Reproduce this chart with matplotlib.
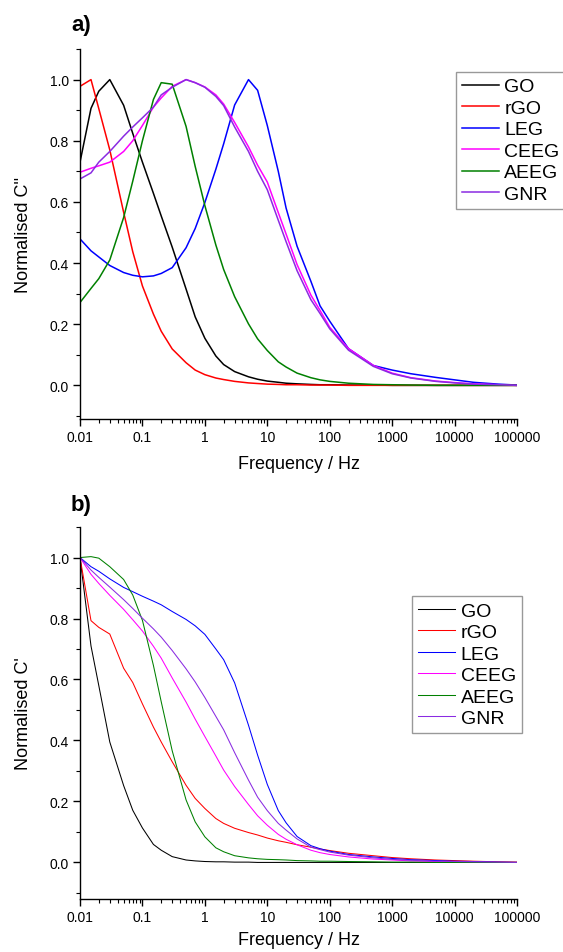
import matplotlib
matplotlib.use("Agg")
import matplotlib.pyplot as plt
from matplotlib.ticker import FixedLocator, FixedFormatter, MultipleLocator, FormatStrFormatter, LogLocator, NullFormatter

plt.rcParams["font.family"] = ["Liberation Sans", "DejaVu Sans"]

# ---------- DATA ----------
freq = [0.01, 0.015, 0.02, 0.03, 0.05, 0.07, 0.1, 0.15, 0.2, 0.3, 0.5, 0.7,
        1, 1.5, 2, 3, 5, 7, 10, 15, 20, 30, 50, 70, 100, 200, 500, 1000,
        2000, 5000, 1e4, 2e4, 5e4, 1e5]

labels = ["GO", "rGO", "LEG", "CEEG", "AEEG", "GNR"]
colors = ["black", "#ff0000", "#0000ff", "#ff00ff", "#008000", "#8a2be2"]

# a) normalised C''
go_c2 = [0.73, 0.906, 0.962, 1.0, 0.916, 0.824, 0.73, 0.628, 0.554, 0.452, 0.315, 0.224,
         0.154, 0.096, 0.068, 0.045, 0.028, 0.02, 0.014, 0.01, 0.007, 0.005, 0.003, 0.002,
         0.002, 0.001, 0.001, 0, 0, 0, 0, 0, 0, 0]
rgo_c2 = [0.978, 1.0, 0.905, 0.77, 0.566, 0.437, 0.325, 0.233, 0.177, 0.119, 0.074, 0.05,
          0.035, 0.024, 0.019, 0.013, 0.008, 0.006, 0.004, 0.003, 0.002, 0.002, 0.001, 0.001,
          0.001, 0, 0, 0, 0, 0, 0, 0, 0, 0]
leg_c2 = [0.479, 0.44, 0.42, 0.392, 0.369, 0.36, 0.355, 0.358, 0.366, 0.385, 0.45, 0.513,
          0.598, 0.707, 0.79, 0.917, 1.0, 0.965, 0.85, 0.70, 0.58, 0.455, 0.34, 0.26,
          0.21, 0.12, 0.065, 0.05, 0.038, 0.026, 0.018, 0.01, 0.004, 0.001]
ceeg_c2 = [0.697, 0.71, 0.718, 0.73, 0.765, 0.80, 0.85, 0.91, 0.94, 0.978, 1.0, 0.99,
           0.976, 0.95, 0.92, 0.86, 0.78, 0.72, 0.665, 0.565, 0.495, 0.395, 0.295, 0.245,
           0.19, 0.12, 0.065, 0.04, 0.025, 0.014, 0.009, 0.005, 0.002, 0]
aeeg_c2 = [0.271, 0.317, 0.349, 0.41, 0.549, 0.668, 0.80, 0.935, 0.99, 0.985, 0.847, 0.716,
           0.588, 0.459, 0.379, 0.29, 0.201, 0.152, 0.114, 0.077, 0.06, 0.04, 0.025, 0.018,
           0.013, 0.007, 0.003, 0.002, 0.001, 0, 0, 0, 0, 0]
gnr_c2 = [0.675, 0.695, 0.73, 0.765, 0.815, 0.845, 0.875, 0.91, 0.95, 0.975, 1.0, 0.99,
          0.975, 0.945, 0.915, 0.845, 0.765, 0.70, 0.64, 0.54, 0.47, 0.375, 0.28, 0.235,
          0.185, 0.115, 0.062, 0.038, 0.024, 0.013, 0.008, 0.004, 0.002, 0]

# b) normalised C'
go_c1 = [1.0, 0.71, 0.58, 0.395, 0.252, 0.171, 0.113, 0.059, 0.04, 0.019, 0.008, 0.005,
         0.003, 0.002, 0.002, 0.001, 0.001, 0, 0, 0, 0, 0, 0, 0,
         0, 0, 0, 0, 0, 0, 0, 0, 0, 0]
rgo_c1 = [1.0, 0.793, 0.771, 0.749, 0.637, 0.59, 0.52, 0.444, 0.395, 0.33, 0.253, 0.21,
          0.177, 0.144, 0.128, 0.112, 0.098, 0.09, 0.08, 0.071, 0.066, 0.058, 0.05, 0.044,
          0.039, 0.03, 0.022, 0.016, 0.012, 0.008, 0.006, 0.004, 0.002, 0.001]
leg_c1 = [1.0, 0.97, 0.955, 0.93, 0.902, 0.888, 0.873, 0.857, 0.845, 0.823, 0.797, 0.776,
          0.748, 0.70, 0.665, 0.589, 0.45, 0.352, 0.256, 0.17, 0.13, 0.085, 0.055, 0.045,
          0.037, 0.026, 0.018, 0.013, 0.009, 0.006, 0.004, 0.003, 0.001, 0]
ceeg_c1 = [1.0, 0.945, 0.915, 0.876, 0.83, 0.796, 0.759, 0.709, 0.67, 0.605, 0.526, 0.47,
           0.413, 0.349, 0.303, 0.249, 0.19, 0.153, 0.122, 0.092, 0.076, 0.058, 0.04, 0.032,
           0.026, 0.018, 0.011, 0.008, 0.005, 0.003, 0.002, 0.001, 0, 0]
aeeg_c1 = [1.0, 1.003, 0.998, 0.97, 0.928, 0.877, 0.794, 0.646, 0.527, 0.366, 0.205, 0.133,
           0.084, 0.048, 0.035, 0.022, 0.015, 0.012, 0.01, 0.009, 0.008, 0.006, 0.005, 0.004,
           0.004, 0.003, 0.002, 0.001, 0.001, 0, 0, 0, 0, 0]
gnr_c1 = [1.0, 0.959, 0.935, 0.903, 0.862, 0.833, 0.801, 0.766, 0.739, 0.695, 0.635, 0.592,
          0.541, 0.479, 0.435, 0.36, 0.27, 0.214, 0.17, 0.128, 0.106, 0.077, 0.05, 0.042,
          0.034, 0.024, 0.015, 0.01, 0.007, 0.004, 0.003, 0.002, 0.001, 0]

xticks = [0.01, 0.1, 1, 10, 100, 1000, 10000, 100000]
xticklabels = ["0.01", "0.1", "1", "10", "100", "1000", "10000", "100000"]


def style_axes(ax, ylabel, ybottom, xpad):
    ax.set_xscale("log")
    ax.set_xlim(0.01, 1e5)
    ax.set_ylim(ybottom, 1.1)
    for side in ("top", "right"):
        ax.spines[side].set_visible(False)
    for side in ("left", "bottom"):
        ax.spines[side].set_linewidth(1.0)
    ax.xaxis.set_major_locator(FixedLocator(xticks))
    ax.xaxis.set_major_formatter(FixedFormatter(xticklabels))
    ax.xaxis.set_minor_locator(LogLocator(base=10, subs=range(2, 10), numticks=20))
    ax.xaxis.set_minor_formatter(NullFormatter())
    ax.yaxis.set_major_locator(MultipleLocator(0.2))
    ax.yaxis.set_minor_locator(MultipleLocator(0.1))
    ax.yaxis.set_major_formatter(FormatStrFormatter("%.1f"))
    ax.set_yticks([0.0, 0.2, 0.4, 0.6, 0.8, 1.0])
    ax.tick_params(which="major", direction="out", length=5, width=1.0, labelsize=10, pad=3)
    ax.tick_params(which="minor", direction="out", length=3, width=0.8)
    ax.set_xlabel("Frequency / Hz", fontsize=13, labelpad=xpad)
    ax.set_ylabel(ylabel, fontsize=13)
    ax.yaxis.set_label_coords(-0.11, 0.5)


fig = plt.figure(figsize=(5.63, 9.53), dpi=100)
ax1 = fig.add_axes([0.1421, 0.5593, 0.7762, 0.3882])
ax2 = fig.add_axes([0.1421, 0.0556, 0.7762, 0.3903])

top_series = [go_c2, rgo_c2, leg_c2, ceeg_c2, aeeg_c2, gnr_c2]
bot_series = [go_c1, rgo_c1, leg_c1, ceeg_c1, aeeg_c1, gnr_c1]

for vals, lab, col in zip(top_series, labels, colors):
    ax1.plot(freq, vals, color=col, lw=1.1, label=lab)
for vals, lab, col in zip(bot_series, labels, colors):
    ax2.plot(freq, vals, color=col, lw=0.75, label=lab)

style_axes(ax1, "Normalised C''", -0.11, 8)
style_axes(ax2, "Normalised C'", -0.12, 5)

leg_kw = dict(loc="upper left", frameon=True, fancybox=False, fontsize=14,
              handlelength=1.9, handletextpad=0.3, labelspacing=0.2,
              borderpad=0.3, borderaxespad=0)
l1 = ax1.legend(bbox_to_anchor=(0.86, 0.938), **leg_kw)
l2 = ax2.legend(bbox_to_anchor=(0.76, 0.814), **leg_kw)
for lg in (l1, l2):
    lg.get_frame().set_edgecolor("#808080")
    lg.get_frame().set_linewidth(1.0)

fig.text(71 / 563, 1 - 26 / 953, "a)", fontsize=16, fontweight="bold", va="center", ha="left")
fig.text(71 / 563, 1 - 505 / 953, "b)", fontsize=16, fontweight="bold", va="center", ha="left")

fig.savefig("out.png", dpi=100)
